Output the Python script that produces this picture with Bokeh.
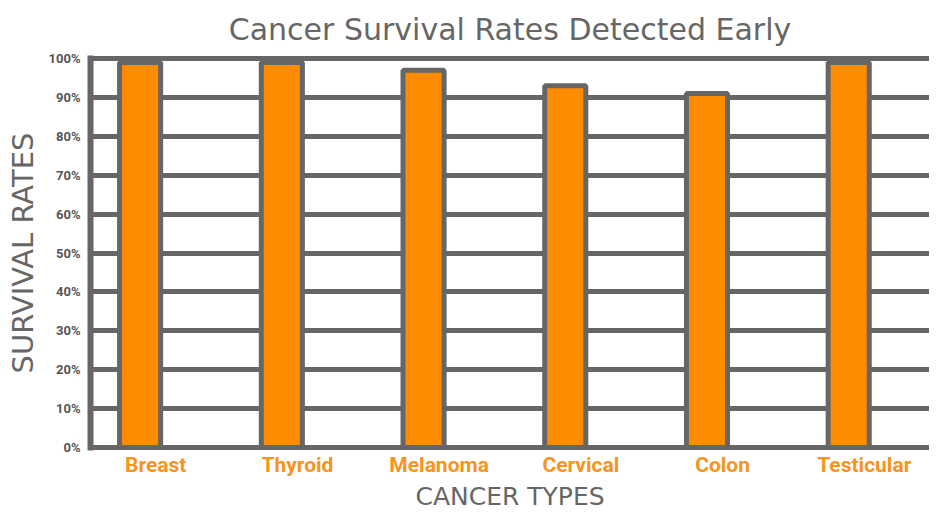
from bokeh.plotting import figure
from bokeh.models import ColumnDataSource, FixedTicker, Range1d, FactorRange, Title
from bokeh.transform import dodge
from bokeh.embed import file_html
from bokeh.resources import INLINE

categories = ["Breast", "Thyroid", "Melanoma", "Cervical", "Colon", "Testicular"]
survival = [99, 99, 97, 93, 91, 99]
y_ticks = [0, 10, 20, 30, 40, 50, 60, 70, 80, 90, 100]
y_tick_labels = ["0%", "10%", "20%", "30%", "40%", "50%", "60%", "70%", "80%", "90%", "100%"]

GRAY = "#666666"
ORANGE = "#FF8C00"
LABEL_ORANGE = "#F7941D"
FONT = "Roboto"
AXIS_FONT = "DejaVu Sans"

source = ColumnDataSource(data=dict(cat=categories, val=survival))

p = figure(
    x_range=FactorRange(factors=categories, range_padding=-0.04,
                        range_padding_units="absolute"),
    y_range=Range1d(-0.8, 100.8),
    width=929, height=510,
    output_backend="svg",
    toolbar_location=None,
    title="Cancer Survival Rates Detected Early",
)
p.min_border_left = 90
p.min_border_right = 0
p.min_border_top = 0
p.min_border_bottom = 0
p.outline_line_color = None
p.background_fill_color = "white"

p.title.align = "center"
p.title.text_font = AXIS_FONT
p.title.text_font_size = "30px"
p.title.text_font_style = "normal"
p.title.text_color = GRAY
p.title.standoff = 18

p.vbar(
    x=dodge("cat", -0.11, range=p.x_range),
    top="val", bottom=0, width=0.29, source=source,
    fill_color=ORANGE, line_color=GRAY, line_width=5,
)

# grid
p.xgrid.grid_line_color = None
p.ygrid.ticker = FixedTicker(ticks=y_ticks)
p.ygrid.grid_line_color = GRAY
p.ygrid.grid_line_width = 5

# y axis
p.yaxis.ticker = FixedTicker(ticks=y_ticks)
p.yaxis.major_label_overrides = {t: l for t, l in zip(y_ticks, y_tick_labels)}
p.yaxis.axis_line_color = GRAY
p.yaxis.axis_line_width = 6
p.yaxis.major_tick_line_color = None
p.yaxis.minor_tick_line_color = None
p.yaxis.major_tick_out = 0
p.yaxis.major_tick_in = 0
p.yaxis.minor_tick_out = 0
p.yaxis.minor_tick_in = 0
p.yaxis.major_label_text_font = FONT
p.yaxis.major_label_text_font_style = "bold"
p.yaxis.major_label_text_font_size = "13px"
p.yaxis.major_label_text_color = "#555555"
p.yaxis.major_label_standoff = 10
p.yaxis.axis_label = "SURVIVAL RATES"
p.yaxis.axis_label_text_font = AXIS_FONT
p.yaxis.axis_label_text_font_size = "29px"
p.yaxis.axis_label_text_font_style = "normal"
p.yaxis.axis_label_text_color = GRAY
p.yaxis.axis_label_standoff = 6

# x axis: category labels
p.xaxis.axis_line_color = None
p.xaxis.major_tick_line_color = None
p.xaxis.minor_tick_line_color = None
p.xaxis.major_tick_out = 0
p.xaxis.major_tick_in = 0
p.xaxis.minor_tick_out = 0
p.xaxis.minor_tick_in = 0
p.xaxis.major_label_text_font = FONT
p.xaxis.major_label_text_font_style = "bold"
p.xaxis.major_label_text_font_size = "21px"
p.xaxis.major_label_text_color = LABEL_ORANGE
p.xaxis.major_label_standoff = 2

# x axis title, placed in the panel below the category labels
x_title = Title(
    text="CANCER TYPES", align="center", standoff=0,
    text_font=AXIS_FONT, text_font_size="25px", text_font_style="normal",
    text_color=GRAY,
)
p.add_layout(x_title, "below")

open("out.html", "w").write(file_html(p, INLINE))
